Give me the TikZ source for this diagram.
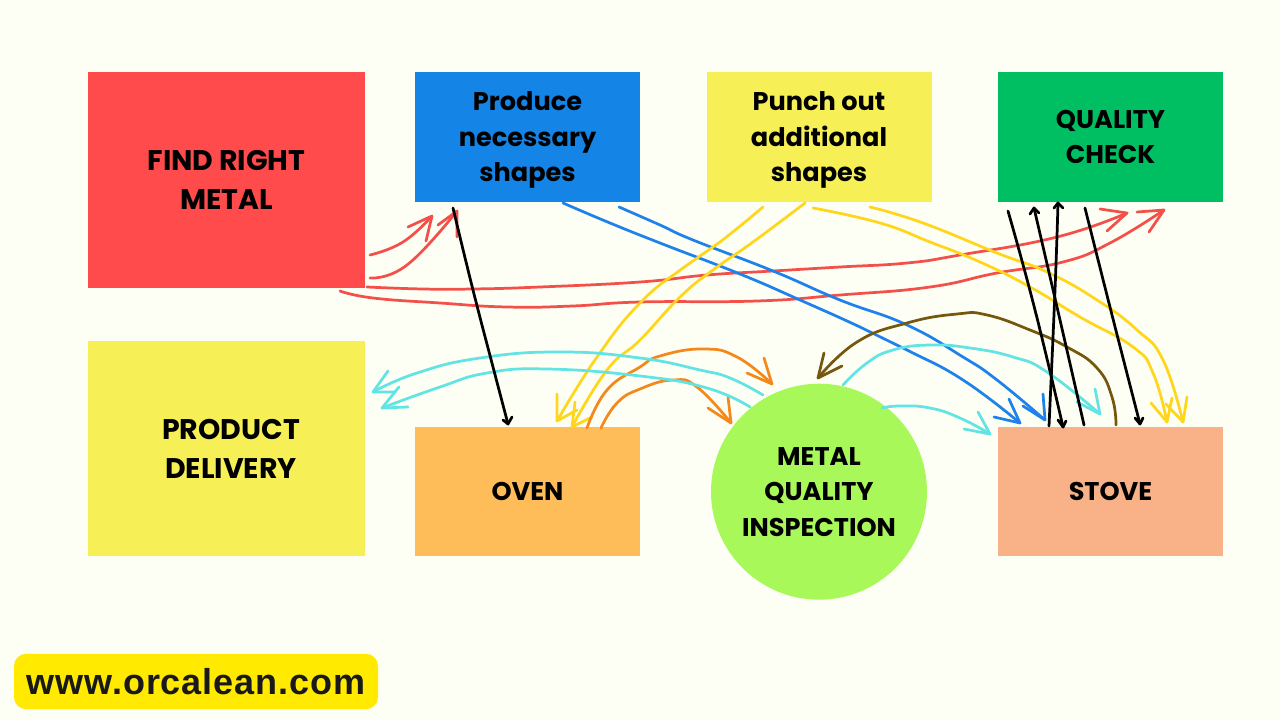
\documentclass[tikz,border=0pt]{standalone}
\usepackage{fontspec}
\setmainfont{Poppins}
\newfontfamily\urlfont[LetterSpace=2.5]{Liberation Sans}
\definecolor{bgc}{HTML}{FDFFF5}
\definecolor{cRed}{HTML}{FF4B4B}
\definecolor{cBlue}{HTML}{1484E6}
\definecolor{cYel}{HTML}{F6F056}
\definecolor{cGreen}{HTML}{00BF63}
\definecolor{cOven}{HTML}{FFBD59}
\definecolor{cLime}{HTML}{A9F85A}
\definecolor{cStove}{HTML}{F9B288}
\definecolor{cBadge}{HTML}{FFEA00}
\definecolor{lRed}{HTML}{F4504A}
\definecolor{lBlue}{HTML}{1F82EC}
\definecolor{lYel}{HTML}{FFD61C}
\definecolor{lOr}{HTML}{F5881A}
\definecolor{lCy}{HTML}{62E4E4}
\definecolor{lBr}{HTML}{75580E}
\tikzset{
  box/.style={draw=none,inner sep=0pt,align=center,text=black},
  smalltxt/.style={font=\fontsize{19.2}{26.6}\selectfont\bfseries},
  bigtxt/.style={font=\fontsize{21.3}{29.4}\selectfont\bfseries},
  lab/.style={box,smalltxt},
  link/.style={line width=2.05pt,line cap=round,line join=round},
}
% name, colour, start, mid points, end, barb 1, barb 2
\newcommand{\handarrow}[7]{%
  \coordinate (#1s) at #3;\coordinate (#1e) at #5;
  \draw[link,#2] plot[smooth,tension=.8] coordinates {(#1s) #4 (#1e)};
  \draw[link,#2] #6 -- (#1e) -- #7;}
\begin{document}
\begin{tikzpicture}[x=0.75pt,y=-0.75pt]
\useasboundingbox (0,0) rectangle (1280,720);
\fill[bgc] (0,0) rectangle (1280,720);
\node[box,bigtxt,fill=cRed,minimum width=208pt,minimum height=162pt] (find) at (226.5,180) {FIND RIGHT\\METAL};
\node[box,fill=cBlue,minimum width=168.75pt,minimum height=97.5pt,label={[lab,yshift=-2.3pt]center:{Produce\\necessary\\shapes}}] (prod) at (527.5,137) {};
\node[box,fill=cYel,minimum width=168.75pt,minimum height=97.5pt,label={[lab,yshift=-2.3pt]center:{Punch out\\additional\\shapes}}] (punch) at (819,137) {};
\node[box,smalltxt,fill=cGreen,minimum width=168.75pt,minimum height=97.5pt] (qc) at (1110.5,137) {QUALITY\\CHECK};
\node[box,fill=cYel,minimum width=208pt,minimum height=161.5pt,label={[box,bigtxt,xshift=3.4pt,yshift=-0.5pt]center:{PRODUCT\\DELIVERY}}] (deliv) at (226.5,448.5) {};
\node[box,smalltxt,fill=cOven,minimum width=168.75pt,minimum height=97pt] (oven) at (527.5,491.5) {OVEN};
\node[box,smalltxt,fill=cLime,circle,minimum width=162pt] (insp) at (819,491.7) {METAL\\QUALITY\\INSPECTION};
\node[box,smalltxt,fill=cStove,minimum width=168.75pt,minimum height=97pt] (stove) at (1110.5,491.5) {STOVE};
\node[box,fill=cBadge,text=black!90,rounded corners=9pt,minimum width=273pt,minimum height=41.5pt,font=\urlfont\fontsize{27}{30}\selectfont\bfseries] (web) at (196,681.5) {www.orcalean.com};
% red
\handarrow{ra}{lRed}{(370,255)}{(403,242)}{(432,216)}{(408,227)}{(426,241)}
\handarrow{rb}{lRed}{(370,278)}{(407,265)}{(457,211)}{(438,225)}{(457,237)}
\handarrow{rc}{lRed}{(367,287)}{(423,289) (473,289) (540,287) (640,282) (707,275) (773,271) (840,267) (907,263) (960,255) (1057,237)}{(1127,213)}{(1100,209)}{(1107,231)}
\handarrow{rd}{lRed}{(340,291)}{(373,298) (440,303) (507,307) (573,306) (640,302) (757,301) (840,295) (930,287) (997,273) (1063,262) (1110,243)}{(1164,210)}{(1137,212)}{(1149,232)}
% blue
\handarrow{ba}{lBlue}{(563,203)}{(610,223) (660,243) (740,274) (800,300) (860,327) (907,350) (963,380)}{(1020,423)}{(994,417)}{(1009,399)}
\handarrow{bb}{lBlue}{(619,207)}{(660,225) (693,240) (773,271) (840,300) (907,325) (963,357) (997,380)}{(1045,420)}{(1023,406)}{(1043,394)}
% yellow
\handarrow{ya}{lYel}{(763,207)}{(720,242) (683,268) (640,303) (597,357)}{(557,421)}{(557,394)}{(577,410)}
\handarrow{yb}{lYel}{(805,203)}{(753,242) (713,270) (680,297) (640,340) (607,370)}{(572,427)}{(575,402)}{(592,417)}
\handarrow{yc}{lYel}{(813,208)}{(880,223) (930,242) (980,262) (1030,287) (1080,317) (1133,347) (1153,373)}{(1167,422)}{(1151,403)}{(1172,398)}
\handarrow{yd}{lYel}{(870,207)}{(923,223) (997,253) (1047,272) (1097,300) (1137,330) (1163,360)}{(1183,422)}{(1166,404)}{(1187,397)}
% orange
\handarrow{oa}{lOr}{(587,428)}{(607,390) (640,367) (660,356) (703,349) (737,357)}{(772,384)}{(764,358)}{(747,373)}
\handarrow{ob}{lOr}{(601,428)}{(617,403) (640,389) (673,380) (697,387)}{(731,423)}{(728,397)}{(708,408)}
% cyan
\handarrow{ca}{lCy}{(763,395)}{(730,378) (700,370) (640,358) (560,352) (480,358) (417,373)}{(373,392)}{(388,371)}{(395,392)}
\handarrow{cb}{lCy}{(750,407)}{(707,388) (640,376) (547,369) (487,373) (440,387)}{(382,408)}{(399,387)}{(408,407)}
\handarrow{cc}{lCy}{(843,385)}{(867,363) (893,350) (930,345) (970,348) (1013,357) (1047,372)}{(1100,414)}{(1077,402)}{(1095,389)}
\handarrow{cd}{lCy}{(882,408)}{(900,406) (930,408) (960,418)}{(990,434)}{(964,429)}{(978,412)}
% brown
\handarrow{br}{lBr}{(1116,425)}{(1112,397) (1097,368) (1067,347) (1030,330) (987,315) (957,314) (907,323) (857,342)}{(818,378)}{(824,353)}{(842,366)}
% black
\handarrow{ka}{black}{(453,208)}{(473,290) (493,367)}{(508,424)}{(503,420)}{(512,417)}
\handarrow{kb}{black}{(1008,211)}{(1035,310)}{(1063,427)}{(1058,420)}{(1066,421)}
\handarrow{kc}{black}{(1084,425)}{(1060,320)}{(1034,208)}{(1030,214)}{(1039,213)}
\handarrow{kd}{black}{(1049,426)}{(1055,290)}{(1058,203)}{(1054,208)}{(1063,208)}
\handarrow{ke}{black}{(1085,208)}{(1112,315)}{(1140,424)}{(1135,418)}{(1143,418)}
\end{tikzpicture}
\end{document}
